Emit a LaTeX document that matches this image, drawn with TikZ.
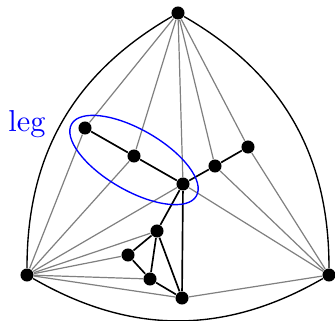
\documentclass[tikz,border=0pt]{standalone}
\usepackage{xcolor}
\usepackage{tikz}
\usetikzlibrary{positioning, calc}

\begin{document}
\begin{tikzpicture}[
  x=0.33pt, y=0.33pt,
  vtx/.style={
    circle, fill=black, inner sep=0pt, minimum size=4.3pt
  },
  outer/.style={line width=0.45pt, color=black},
  tree/.style={line width=0.55pt, color=black},
  tri/.style={line width=0.4pt, color=gray},
  legmark/.style={line width=0.45pt, color=blue},
]
\useasboundingbox (0,0) rectangle (335,320);

% Outer vertices
\node[vtx] (top) at (178,307) {};
\node[vtx] (left) at (27,45) {};
\node[vtx] (right) at (329,45) {};

% Inner vertices
\node[vtx] (legA) at (85,192) {};
\node[vtx] (legB) at (134,164) {};
\node[vtx] (hub) at (183,136) {};
\node[vtx] (armD) at (215,154) {};
\node[vtx] (armE) at (248,173) {};
\node[vtx] (lowF) at (157,89) {};
\node[vtx] (lowG) at (128,65) {};
\node[vtx] (lowH) at (150,41) {};
\node[vtx] (bot) at (182,22) {};

% Outer face
\draw[outer] (top) to[bend right=30] (left);
\draw[outer] (top) to[bend left=30] (right);
\draw[outer] (left) to[bend right=30] (right);

% Triangulation edges
\draw[tri] (top) -- (legA);
\draw[tri] (top) -- (legB);
\draw[tri] (top) -- (hub);
\draw[tri] (top) -- (armD);
\draw[tri] (top) -- (armE);
\draw[tri] (left) -- (legA);
\draw[tri] (left) -- (legB);
\draw[tri] (left) -- (hub);
\draw[tri] (left) -- (lowF);
\draw[tri] (left) -- (lowG);
\draw[tri] (left) -- (lowH);
\draw[tri] (left) -- (bot);
\draw[tri] (right) -- (armE);
\draw[tri] (right) -- (armD);
\draw[tri] (right) -- (hub);
\draw[tri] (right) -- (bot);

% Inner edges
\draw[tree] (legA) -- (legB);
\draw[tree] (legB) -- (hub);
\draw[tree] (hub) -- (armD);
\draw[tree] (armD) -- (armE);
\draw[tree] (hub) -- (lowF);
\draw[tree] (hub) -- (bot);
\draw[tree] (lowF) -- (lowG);
\draw[tree] (lowG) -- (lowH);
\draw[tree] (lowF) -- (lowH);
\draw[tree] (lowF) -- (bot);
\draw[tree] (lowH) -- (bot);

% Leg
\draw[legmark, rotate around={-30:(134,160)}] (134,160) ellipse [x radius=72, y radius=30.5];
\node[text=blue, font=\normalsize] (leglabel) at (27,196) {leg};

\end{tikzpicture}
\end{document}
